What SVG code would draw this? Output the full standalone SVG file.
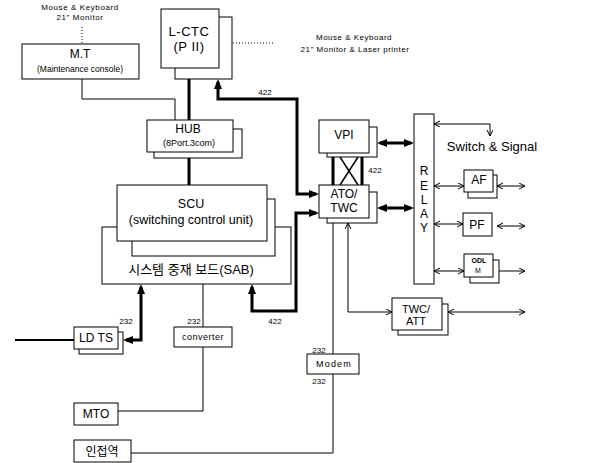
<svg xmlns="http://www.w3.org/2000/svg" width="590" height="463" viewBox="0 0 590 463">
<defs>
<style>
.box{fill:#fff;stroke:#000;stroke-width:1}
.t{font-family:"Liberation Sans",Arial,sans-serif;fill:#000;text-anchor:middle}
.k{font-family:"Liberation Sans","Noto Sans CJK KR",sans-serif;fill:#000;text-anchor:middle}
.thick{fill:none;stroke:#000;stroke-width:3}
.thin{fill:none;stroke:#000;stroke-width:1}
.dot{fill:none;stroke:#000;stroke-width:1;stroke-dasharray:1 2}
.fa{marker-start:url(#fa);marker-end:url(#fa)}
.oa{marker-start:url(#oa);marker-end:url(#oa)}
</style>
<marker id="fa" markerUnits="userSpaceOnUse" markerWidth="12" markerHeight="10" refX="7" refY="4" orient="auto-start-reverse"><path d="M0,0 L10,4 L0,8 z" fill="#000"/></marker>
<marker id="oa" markerUnits="userSpaceOnUse" markerWidth="8" markerHeight="8" refX="6" refY="3" orient="auto-start-reverse"><path d="M0,0 L6,3 L0,6" fill="none" stroke="#000" stroke-width="1"/></marker>
<marker id="oe" markerUnits="userSpaceOnUse" markerWidth="8" markerHeight="8" refX="6" refY="3" orient="auto"><path d="M0,0 L6,3 L0,6" fill="none" stroke="#000" stroke-width="1"/></marker>
</defs>
<rect width="590" height="463" fill="#fff"/>

<g id="connectors">
<path class="dot" d="M82,27 L82,44"/>
<path class="dot" d="M233,43 L275,43"/>
<path class="thin" d="M82,79 L82,99 L175,99 L175,120"/>
<path class="thick" d="M189,79 L189,120"/>
<path class="thick" d="M189,158 L189,185"/>
<path class="thick fa" d="M218,82 L218,99 L297,99 L297,194 L316,194"/>
<path class="thick fa" d="M252,287 L252,311 L296,311 L296,213 L316,213"/>
<path class="thick fa" d="M126,340 L141,340 L141,287"/>
<path d="M15,340 L74,340" fill="none" stroke="#000" stroke-width="2"/>
<path class="thick" d="M333,157 L333,185 M362,157 L362,185"/>
<path d="M340,157 L358,185 M358,157 L340,185" fill="none" stroke="#000" stroke-width="1.5"/>
<path class="thick fa" d="M380,143 L411,143"/>
<path class="thick fa" d="M380,208 L411,208"/>
<path class="thin oa" d="M434,124 L490,124 L490,136"/>
<path class="thin oa" d="M434,186 L464,186"/>
<path class="thin oa" d="M497,186 L525,186"/>
<path class="thin oa" d="M434,224 L463,224"/>
<path class="thin oa" d="M497,226 L525,226"/>
<path class="thin oa" d="M434,271 L464,271"/>
<path class="thin" d="M499,271 L525,271" marker-end="url(#oe)"/>
<path class="thin oa" d="M348,223 L348,312 L392,312"/>
<path class="thin oa" d="M448,312 L525,312"/>
<path class="thin" d="M333,223 L333,354 M333,374 L333,453 L131,453"/>
<path class="thin" d="M203,284 L203,327 M203,347 L203,411 L118,411"/>
</g>

<g id="labels">
<text class="t" x="80" y="10" font-size="8" letter-spacing="0.6">Mouse &amp; Keyboard</text>
<text class="t" x="80" y="20" font-size="8" letter-spacing="0.6">21" Monitor</text>
<text class="t" x="354" y="40" font-size="8" letter-spacing="0.5">Mouse &amp; Keyboard</text>
<text class="t" x="355" y="52" font-size="8" letter-spacing="0.5">21" Monitor &amp; Laser printer</text>
<text class="t" x="265" y="95" font-size="8">422</text>
<text class="t" x="375" y="173" font-size="8">422</text>
<text class="t" x="126" y="324" font-size="8">232</text>
<text class="t" x="194" y="324" font-size="8">232</text>
<text class="t" x="275" y="324" font-size="8">422</text>
<text class="t" x="319" y="353" font-size="8">232</text>
<text class="t" x="319" y="384" font-size="8">232</text>
<text class="t" x="492" y="151" font-size="13">Switch &amp; Signal</text>
</g>

<g id="mt">
<rect class="box" x="22" y="44" width="117" height="35"/>
<text class="t" x="80" y="58" font-size="12">M.T</text>
<text class="t" x="80" y="72" font-size="8.5">(Maintenance console)</text>
</g>

<g id="lctc">
<rect class="box" x="175" y="17" width="57" height="62"/>
<rect class="box" x="161" y="9" width="58" height="59"/>
<text class="t" x="189" y="36" font-size="13" letter-spacing="0.5">L-CTC</text>
<text class="t" x="189" y="51" font-size="13" letter-spacing="0.5">(P II)</text>
</g>

<g id="hub">
<rect class="box" x="154" y="129" width="88" height="29"/>
<rect class="box" x="147" y="120" width="86" height="32"/>
<text class="t" x="188" y="133" font-size="12">HUB</text>
<text class="t" x="189" y="146" font-size="9">(8Port.3com)</text>
</g>

<g id="sab">
<rect class="box" x="102" y="227" width="189" height="57"/>
<text class="k" x="191" y="274" font-size="13">시스템 중재 보드(SAB)</text>
</g>

<g id="scu">
<rect class="box" x="132" y="199" width="143" height="57"/>
<rect class="box" x="117" y="185" width="150" height="56"/>
<text class="t" x="191" y="208" font-size="12.5">SCU</text>
<text class="t" x="191" y="224" font-size="12.5">(switching control unit)</text>
</g>

<g id="vpi">
<rect class="box" x="327" y="127" width="50" height="30"/>
<rect class="box" x="319" y="120" width="50" height="33"/>
<text class="t" x="344" y="139" font-size="12">VPI</text>
</g>

<g id="ato">
<rect class="box" x="327" y="192" width="50" height="31"/>
<rect class="box" x="319" y="185" width="50" height="33"/>
<text class="t" x="344" y="198" font-size="12">ATO/</text>
<text class="t" x="344" y="212" font-size="12">TWC</text>
</g>

<g id="relay">
<rect class="box" x="414" y="114" width="20" height="170"/>
<text class="t" x="424" y="175" font-size="12">R</text>
<text class="t" x="424" y="190" font-size="12">E</text>
<text class="t" x="424" y="204" font-size="12">L</text>
<text class="t" x="424" y="218" font-size="12">A</text>
<text class="t" x="424" y="232" font-size="12">Y</text>
</g>

<g id="af">
<rect class="box" x="468" y="175" width="29" height="23"/>
<rect class="box" x="464" y="170" width="29" height="22"/>
<text class="t" x="479" y="184" font-size="12">AF</text>
</g>

<g id="pf">
<rect class="box" x="463" y="213" width="29" height="23"/>
<text class="t" x="477" y="229" font-size="12">PF</text>
</g>

<g id="odl">
<rect class="box" x="470" y="260" width="29" height="23"/>
<rect class="box" x="464" y="254" width="29" height="23"/>
<text class="t" x="479" y="263" font-size="7" font-weight="bold">ODL</text>
<text class="t" x="478" y="273" font-size="7">M</text>
</g>

<g id="twcatt">
<rect class="box" x="398" y="304" width="50" height="31"/>
<rect class="box" x="392" y="298" width="50" height="32"/>
<text class="t" x="416" y="313" font-size="11">TWC/</text>
<text class="t" x="416" y="325" font-size="11">ATT</text>
</g>

<g id="modem">
<rect class="box" x="307" y="354" width="52" height="20"/>
<text class="t" x="334" y="367" font-size="9" letter-spacing="1.2">Modem</text>
</g>

<g id="ldts">
<rect class="box" x="79" y="332" width="44" height="22"/>
<rect class="box" x="74" y="327" width="44" height="22"/>
<text class="t" x="96" y="342" font-size="12">LD TS</text>
</g>

<g id="converter">
<rect class="box" x="174" y="327" width="58" height="20"/>
<text class="t" x="203" y="340" font-size="9" letter-spacing="0.5">converter</text>
</g>

<g id="mto">
<rect class="box" x="74" y="403" width="44" height="22"/>
<text class="t" x="96" y="418" font-size="12">MTO</text>
</g>

<g id="neighbor">
<rect class="box" x="74" y="440" width="57" height="22"/>
<text class="k" x="102" y="456" font-size="12">인접역</text>
</g>
</svg>
